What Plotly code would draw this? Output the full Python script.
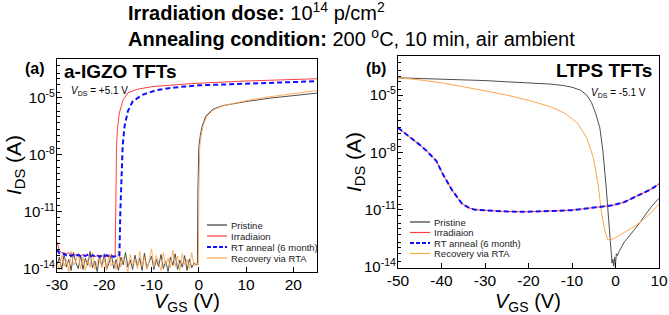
import plotly.graph_objects as go

# ---------------- DATA ----------------
series_names = ["Pristine", "Irradiaion", "RT anneal (6 month)", "Recovery via RTA"]

# axis tick labels
a_xticks = [-30, -20, -10, 0, 10, 20]
a_xticklabels = ["-30", "-20", "-10", "0", "10", "20"]
b_xticks = [-50, -40, -30, -20, -10, 0, 10]
b_xticklabels = ["-50", "-40", "-30", "-20", "-10", "0", "10"]
y_ticks = [1e-14, 1e-11, 1e-8, 1e-5]
y_ticklabels = ["10<sup>-14</sup>", "10<sup>-11</sup>", "10<sup>-8</sup>", "10<sup>-5</sup>"]

# Panel (a): a-IGZO TFTs, V_DS = +5.1 V  (I_DS in A)
a_floor_vgs = [-30.0, -29.5, -29.0, -28.5, -28.0, -27.5, -27.0, -26.5, -26.0, -25.5,
               -25.0, -24.5, -24.0, -23.5, -23.0, -22.5, -22.0, -21.5, -21.0, -20.5,
               -20.0, -19.5, -19.0, -18.5, -18.0, -17.5, -17.0, -16.5, -16.0, -15.5,
               -15.0, -14.5, -14.0, -13.5, -13.0, -12.5, -12.0, -11.5, -11.0, -10.5,
               -10.0, -9.5, -9.0, -8.5, -8.0, -7.5, -7.0, -6.5, -6.0, -5.5,
               -5.0, -4.5, -4.0, -3.5, -3.0, -2.5, -2.0, -1.5, -1.0, -0.5]
a_pristine_floor = [1.5e-14, 4e-14, 9e-15, 6e-14, 1.2e-14, 3e-14, 8e-15, 7e-14, 2e-14, 1e-14,
                    5e-14, 9e-15, 3.5e-14, 1.5e-14, 8e-14, 1.1e-14, 2.5e-14, 7e-15, 4.5e-14, 1.3e-14,
                    6e-14, 9e-15, 2e-14, 5.5e-14, 1e-14, 3e-14, 8e-15, 4e-14, 1.6e-14, 7e-14,
                    1.2e-14, 2.8e-14, 9e-15, 5e-14, 1.4e-14, 3.5e-14, 8e-15, 6.5e-14, 1.1e-14, 2.2e-14,
                    4.5e-14, 9e-15, 3e-14, 1.3e-14, 5.5e-14, 1e-14, 2.5e-14, 7e-15, 4e-14, 1.5e-14,
                    6e-14, 9e-15, 2.8e-14, 1.2e-14, 4.8e-14, 8e-15, 3.2e-14, 1.1e-14, 2e-14, 1.5e-14]
a_recovery_floor = [2e-14, 9e-15, 5e-14, 1.3e-14, 3e-14, 7e-15, 8e-14, 1.5e-14, 2.5e-14, 6e-14,
                    1e-14, 4e-14, 8e-15, 3e-14, 1.2e-14, 7e-14, 9e-15, 2e-14, 5e-14, 1.1e-14,
                    3.5e-14, 8e-15, 6e-14, 1.4e-14, 2.5e-14, 9e-15, 9e-14, 1.2e-14, 4e-14, 2e-14,
                    7e-15, 5.5e-14, 1.5e-14, 3e-14, 1e-14, 8e-14, 1.3e-14, 4e-14, 9e-15, 2.5e-14,
                    1.1e-13, 1.2e-14, 5e-14, 2e-14, 8e-15, 7e-14, 1.5e-14, 3.5e-14, 1.1e-14, 9e-14,
                    1.3e-14, 4.5e-14, 8e-15, 6e-14, 1.6e-14, 3e-14, 1e-14, 7e-14, 1.4e-14, 2e-14]

a_pristine_on_vgs = [-0.3, -0.2, -0.1, 0.0, 0.3, 0.7, 1.5, 3.0, 5.0, 7.0, 10.0, 15.0, 20.0, 25.0]
a_pristine_on = [1.6e-14, 1e-10, 5e-9, 2.5e-8, 1e-7, 3.2e-7, 1.1e-6, 2.5e-6, 3.8e-6, 4.7e-6,
                 6.3e-6, 9.5e-6, 1.3e-5, 1.75e-5]
a_recovery_on_vgs = [-0.1, 0.0, 0.1, 0.2, 0.5, 0.9, 1.7, 3.2, 5.2, 7.2, 10.2, 15.0, 20.0, 25.0]
a_recovery_on = [1.6e-14, 1e-10, 5e-9, 2.5e-8, 1e-7, 3.2e-7, 1.07e-6, 2.4e-6, 3.8e-6, 5e-6,
                 7.1e-6, 1.12e-5, 1.66e-5, 2.4e-5]

a_irr_vgs = [-30.0, -29.5, -29.0, -28.5, -28.0, -27.5, -27.0, -26.5, -26.0, -25.5,
             -25.0, -24.5, -24.0, -23.5, -23.0, -22.5, -22.0, -21.5, -21.0, -20.5,
             -20.0, -19.5, -19.0, -18.5, -18.0, -17.7, -17.6, -17.5, -17.4, -17.2,
             -16.8, -16.0, -15.0, -13.0, -10.0, -5.0, 0.0, 10.0, 25.0]
a_irr = [2.5e-13, 9e-14, 7e-14, 6.5e-14, 6e-14, 6.8e-14, 5.5e-14, 6e-14, 5e-14, 5.8e-14,
         4.8e-14, 5.5e-14, 4.5e-14, 5.2e-14, 4.6e-14, 5e-14, 4.2e-14, 4.8e-14, 4.4e-14, 4.9e-14,
         4.1e-14, 4.6e-14, 4.3e-14, 4.7e-14, 4.2e-14, 4.5e-14, 1e-11, 1e-9, 2.5e-8, 2.5e-7,
         1.6e-6, 7.9e-6, 1.8e-5, 2.8e-5, 3.8e-5, 4.8e-5, 5.8e-5, 7.6e-5, 1e-4]

a_rt_vgs = [-30.0, -29.5, -29.0, -28.5, -28.0, -27.5, -27.0, -26.5, -26.0, -25.5,
            -25.0, -24.5, -24.0, -23.5, -23.0, -22.5, -22.0, -21.5, -21.0, -20.5,
            -20.0, -19.5, -19.0, -18.5, -18.0, -17.5, -17.0, -16.8, -16.6, -16.4,
            -16.1, -15.7, -15.0, -14.0, -12.0, -9.0, -5.0, 0.0, 10.0, 25.0]
a_rt = [1e-13, 6.5e-14, 5.5e-14, 6.2e-14, 5e-14, 5.8e-14, 4.6e-14, 5.5e-14, 4.8e-14, 5.3e-14,
        4.4e-14, 5.1e-14, 4.6e-14, 5.4e-14, 4.3e-14, 5e-14, 4.5e-14, 5.2e-14, 4.2e-14, 4.9e-14,
        4.4e-14, 5.1e-14, 4.3e-14, 4.8e-14, 4.1e-14, 4.7e-14, 4.4e-14, 5e-14, 1e-11, 1e-9,
        3.2e-8, 3.2e-7, 2e-6, 6.3e-6, 1.4e-5, 2.5e-5, 3.5e-5, 4.5e-5, 5.6e-5, 7.4e-5]

# Panel (b): LTPS TFTs, V_DS = -5.1 V
b_pristine_vgs = [-50, -45, -40, -35, -30, -25, -20, -15, -12, -10, -8, -6.6, -5.5, -4.5, -3.6,
                  -2.9, -2.2, -1.6, -1.1, -0.8, -0.6, -0.4, -0.2, 0.0, 0.2, 0.4, 0.8, 2.0, 4.5,
                  6.5, 8.2, 10.0]
b_pristine = [8.1e-5, 7.6e-5, 6.9e-5, 6.3e-5, 5.8e-5, 5.0e-5, 4.5e-5, 3.8e-5, 3.2e-5, 2.6e-5,
              1.8e-5, 1.0e-5, 4.0e-6, 1.0e-6, 1.95e-7, 1.2e-8, 2.2e-10, 4.3e-12, 7.9e-14, 1.6e-14,
              2.5e-14, 1.1e-14, 3.2e-14, 1.4e-14, 5e-14, 4e-14, 6.3e-14, 2e-13, 1e-12, 4e-12,
              1.4e-11, 4e-11]

b_recovery_vgs = [-50, -45, -40, -35, -30, -25, -20, -15, -11.7, -8.8, -6.6, -5.1, -4.0, -3.3,
                  -2.5, -1.8, -1.2, 0.0, 2.0, 4.5, 6.5, 8.2, 10.0]
b_recovery = [8.1e-5, 6.3e-5, 4.4e-5, 2.8e-5, 1.7e-5, 1.0e-5, 5.4e-6, 2.5e-6, 1.15e-6, 3.5e-7,
              5.9e-8, 5.4e-9, 2.2e-10, 9.3e-12, 8.7e-13, 2.8e-13, 2.5e-13, 3.5e-13, 6.3e-13,
              1.4e-12, 3.2e-12, 7.1e-12, 2e-11]

b_irr_vgs = [-50, -47, -45, -43.4, -41.2, -39.7, -37.5, -35.3, -33.5, -32.3, -30, -28.7, -25,
             -21.3, -17, -13.9, -10, -6.6, -3, -0.7, 2, 4.5, 6.5, 8.2, 10]
b_irr = [1.95e-7, 5.9e-8, 2.5e-8, 1.2e-8, 3.6e-9, 7.4e-10, 1.0e-10, 2.1e-11, 1.2e-11, 1.0e-11,
         9.1e-12, 8.7e-12, 8.1e-12, 7.8e-12, 7.9e-12, 8.7e-12, 9.5e-12, 1.15e-11, 1.4e-11,
         1.7e-11, 2.5e-11, 4.6e-11, 7.6e-11, 1.2e-10, 2.2e-10]
b_rt_vgs = b_irr_vgs
b_rt = [1.95e-7, 5.9e-8, 2.5e-8, 1.2e-8, 3.6e-9, 7.4e-10, 1.0e-10, 2.1e-11, 1.2e-11, 1.0e-11,
        9.1e-12, 8.7e-12, 8.1e-12, 7.8e-12, 7.9e-12, 8.7e-12, 9.5e-12, 1.15e-11, 1.4e-11,
        1.7e-11, 2.5e-11, 4.6e-11, 7.6e-11, 1.2e-10, 2.2e-10]

# ---------------- STYLE ----------------
W, H = 669, 315
FONT = "Arial, Liberation Sans, sans-serif"
C_PRI = "#3a3a3a"
C_IRR = "#ff4040"
C_RT = "#1010ff"
C_REC = "#ffa64d"

def PX(x):
    return x / W

def PY(y):
    return 1 - y / H

fig = go.Figure()

def add(x, y, color, width, xa, ya, dash="solid"):
    fig.add_trace(go.Scatter(x=x, y=y, mode="lines", xaxis=xa, yaxis=ya,
                             line=dict(color=color, width=width, dash=dash),
                             showlegend=False, hoverinfo="skip"))

# panel a
add(a_floor_vgs + a_pristine_on_vgs, a_pristine_floor + a_pristine_on, C_PRI, 0.9, "x", "y")
add(a_floor_vgs + a_recovery_on_vgs, a_recovery_floor + a_recovery_on, C_REC, 0.9, "x", "y")
add(a_irr_vgs, a_irr, C_IRR, 1.0, "x", "y")
add(a_rt_vgs, a_rt, C_RT, 2.0, "x", "y", dash="5px,3px")
# panel b
add(b_pristine_vgs, b_pristine, C_PRI, 0.9, "x2", "y2")
add(b_recovery_vgs, b_recovery, C_REC, 1.0, "x2", "y2")
add(b_irr_vgs, b_irr, C_IRR, 1.0, "x2", "y2")
add(b_rt_vgs, b_rt, C_RT, 2.0, "x2", "y2", dash="5px,3px")

common_x = dict(showline=True, linecolor="black", linewidth=1.3, mirror=True,
                ticks="inside", ticklen=5, tickwidth=1.2, tickcolor="black",
                tickfont=dict(family=FONT, size=15.5, color="black"), ticklabelstandoff=-2,
                showgrid=False, zeroline=False, tickmode="array", automargin=False)
common_y = dict(type="log", showline=True, linecolor="black", linewidth=1.3, mirror=True,
                ticks="inside", ticklen=5, tickwidth=1.2, tickcolor="black",
                tickfont=dict(family=FONT, size=15, color="black"), ticklabelstandoff=-2,
                showgrid=False, zeroline=False, tickmode="array",
                tickvals=y_ticks, ticktext=y_ticklabels, automargin=False,
                minor=dict(tickmode="linear", dtick="D2", ticks="inside", ticklen=2.5, tickwidth=1,
                           tickcolor="black", showgrid=False))

fig.update_layout(
    width=W, height=H, margin=dict(l=0, r=0, t=0, b=0, pad=0, autoexpand=False),
    paper_bgcolor="white", plot_bgcolor="white", showlegend=False,
    xaxis=dict(common_x, domain=[PX(57), PX(317)], range=[-30, 25], anchor="y",
               tickvals=a_xticks, ticktext=a_xticklabels),
    yaxis=dict(common_y, domain=[PY(272), PY(59)], range=[-14.18, -2.96], anchor="x"),
    xaxis2=dict(common_x, domain=[PX(398), PX(659)], range=[-50, 10], anchor="y2",
                tickvals=b_xticks, ticktext=b_xticklabels),
    yaxis2=dict(common_y, domain=[PY(268), PY(56)], range=[-14.05, -2.95], anchor="x2"),
)

ann = []
def text(x, y, s, size, xanchor="center", angle=0, color="black"):
    ann.append(dict(x=PX(x), y=PY(y), xref="paper", yref="paper", text=s, showarrow=False,
                    xanchor=xanchor, yanchor="middle", textangle=angle,
                    font=dict(family=FONT, size=size, color=color)))

# header
text(126, 12, "<b>Irradiation dose:</b> 10<sup>14</sup> p/cm<sup>2</sup>", 20, "left")
text(126, 37, "<b>Annealing condition:</b> 200 <sup>o</sup>C, 10 min, air ambient", 20, "left")

# panel labels
text(35, 68, "<b>(a)</b>", 16)
text(62, 72, "<b>a-IGZO TFTs</b>", 19, "left")
text(69, 91, "<i>V</i><sub>DS</sub> = +5.1 V", 10, "left")
text(376, 68, "<b>(b)</b>", 16)
text(654, 70, "<b>LTPS TFTs</b>", 19, "right")
text(648, 93, "<i>V</i><sub>DS</sub> = -5.1 V", 10, "right")

# axis titles
text(15, 165, "<i>I</i><sub>DS</sub> (A)", 21, angle=-90)
text(355, 162, "<i>I</i><sub>DS</sub> (A)", 21, angle=-90)
text(187, 302, "<i>V</i><sub>GS</sub> (V)", 20)
text(528, 302, "<i>V</i><sub>GS</sub> (V)", 20)

# legends (drawn manually for compact rows)
styles = [(C_PRI, 1.2, "solid"), (C_IRR, 1.2, "solid"), (C_RT, 2.0, "4px,2px"), (C_REC, 1.2, "solid")]
shapes = []
def legend(x0, y0, dy):
    for i, (name, (c, w, d)) in enumerate(zip(series_names, styles)):
        yy = y0 + i * dy
        shapes.append(dict(type="line", xref="paper", yref="paper",
                           x0=PX(x0), x1=PX(x0 + 20), y0=PY(yy), y1=PY(yy),
                           line=dict(color=c, width=w, dash=d)))
        text(x0 + 22, yy, name, 9.5, "left", color="#222")

legend(207, 225, 11)
legend(410, 222, 10.5)

fig.update_layout(annotations=ann, shapes=shapes)
fig.write_html("out.html", config={"displayModeBar": False},
               post_script="document.body.style.margin='0';document.body.style.overflow='hidden';")
